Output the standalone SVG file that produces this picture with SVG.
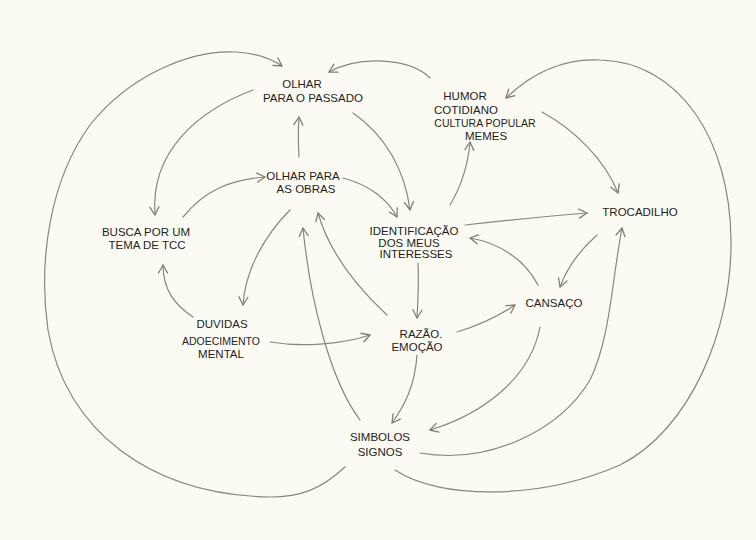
<svg xmlns="http://www.w3.org/2000/svg" width="756" height="540" viewBox="0 0 756 540">
<defs>
<marker id="arr" markerUnits="userSpaceOnUse" markerWidth="12" markerHeight="12" refX="10" refY="6" orient="auto">
<path d="M2,1.5 L10,6 L2,10.5" fill="none" stroke="#857d72" stroke-width="1.3" stroke-linecap="round" stroke-linejoin="round"/>
</marker>
<style>
.e{fill:none;stroke:#8c857a;stroke-width:1.2;stroke-linecap:round}
.a{marker-end:url(#arr)}
text{font-family:"Liberation Sans",Arial,sans-serif;font-size:11.5px;fill:#1f1d1a;text-anchor:middle}
.s{font-size:10.5px}
</style>
</defs>
<rect width="756" height="540" fill="#fbfbf4"/>
<g id="connectors">
<path class="e a" d="M345,467 C320,490 300,497 270,497 C150,495 65,430 48,330 C38,260 50,180 90,125 C130,75 190,50 235,52 C255,53 270,58 282,66"/>
<path class="e a" d="M430,78 C410,58 360,55 329,72"/>
<path class="e a" d="M253,90 C200,110 150,150 155,215"/>
<path class="e a" d="M299,157 C298,140 298,130 299,117"/>
<path class="e a" d="M183,217 C205,190 230,180 265,177"/>
<path class="e a" d="M353,113 C385,135 405,170 410,210"/>
<path class="e a" d="M343,178 C370,185 388,200 397,217"/>
<path class="e a" d="M290,210 C265,235 245,270 243,305"/>
<path class="e a" d="M193,317 C175,305 163,290 163,265"/>
<path class="e a" d="M270,342 C300,347 340,345 370,335"/>
<path class="e a" d="M387,315 C360,290 330,255 318,213"/>
<path class="e a" d="M360,420 C330,380 310,300 303,228"/>
<path class="e a" d="M418,263 C419,285 418,300 417,318"/>
<path class="e a" d="M450,205 C462,185 468,165 470,142"/>
<path class="e a" d="M465,225 C510,220 550,216 587,213"/>
<path class="e a" d="M542,112 C575,130 605,160 618,193"/>
<path class="e a" d="M597,235 C580,250 567,268 560,287"/>
<path class="e a" d="M538,285 C525,260 500,243 470,238"/>
<path class="e a" d="M457,332 C480,325 500,315 515,305"/>
<path class="e a" d="M540,327 C530,380 480,415 430,430"/>
<path class="e a" d="M417,355 C415,385 405,405 392,423"/>
<path class="e a" d="M420,453 C490,465 560,430 590,380 C610,340 612,280 622,228"/>
<path class="e a" d="M395,470 C440,500 540,500 620,465 C690,430 732,330 731,240 C730,140 680,62 600,60 C560,58 530,75 506,98"/>
</g>
<g id="olhar-passado"><text x="302" y="88">OLHAR</text><text x="313" y="102">PARA O PASSADO</text></g>
<g id="humor"><text x="465" y="100">HUMOR</text><text x="466" y="114">COTIDIANO</text><text class="s" x="485" y="127">CULTURA POPULAR</text><text x="486" y="140">MEMES</text></g>
<g id="olhar-obras"><text x="303" y="180">OLHAR PARA</text><text x="306" y="193">AS OBRAS</text></g>
<g id="busca"><text x="146" y="236">BUSCA POR UM</text><text x="147" y="249">TEMA DE TCC</text></g>
<g id="identificacao"><text x="414" y="235">IDENTIFICAÇÃO</text><text x="409" y="247">DOS MEUS</text><text x="416" y="258">INTERESSES</text></g>
<g id="trocadilho"><text x="640" y="216">TROCADILHO</text></g>
<g id="cansaco"><text x="554" y="307">CANSAÇO</text></g>
<g id="duvidas"><text x="222" y="328">DUVIDAS</text><text class="s" x="221" y="345">ADOECIMENTO</text><text x="221" y="358">MENTAL</text></g>
<g id="razao"><text x="421" y="338">RAZÃO.</text><text x="417" y="351">EMOÇÃO</text></g>
<g id="simbolos"><text x="380" y="441">SIMBOLOS</text><text x="380" y="456">SIGNOS</text></g>
</svg>
